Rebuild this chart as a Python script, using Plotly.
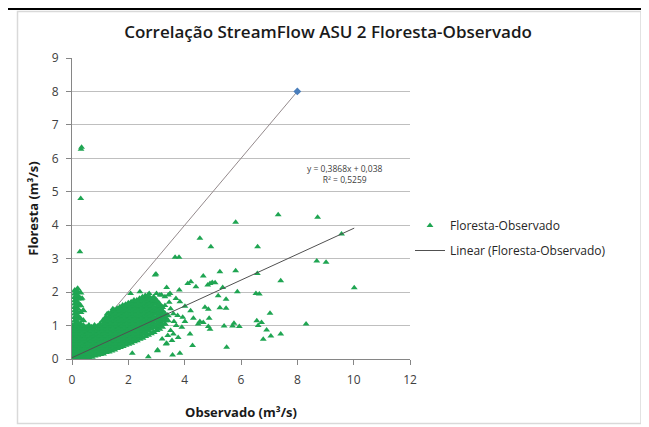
import plotly.graph_objects as go

# ---------------- data ----------------
# dense cloud of Floresta-Observado pairs
cloud_cols_x = [0.02, 0.1, 0.2, 0.3, 0.4, 0.5, 0.6, 0.7, 0.8, 0.9, 1.0, 1.1, 1.2, 1.3, 1.4,
                1.5, 1.6, 1.7, 1.8, 1.9, 2.0, 2.1, 2.2, 2.3, 2.4, 2.5, 2.6, 2.7, 2.8, 2.9,
                3.0, 3.1, 3.2, 3.3, 3.4]
cloud_cols_y = [
    [0.02, 0.1, 0.2, 0.3, 0.4, 0.5, 0.6, 0.7, 0.8, 0.9, 1.0],
    [0.05, 0.15, 0.25, 0.35, 0.45, 0.55, 0.65, 0.75, 0.85, 0.95, 1.05, 1.15, 1.25, 1.35, 1.45, 1.55, 1.65, 1.75, 1.85, 1.95, 2.05],
    [0.02, 0.1, 0.2, 0.3, 0.4, 0.5, 0.6, 0.7, 0.8, 0.9, 1.0, 1.1, 1.2, 1.3, 1.4, 1.5, 1.6, 1.7, 1.8, 1.9, 2.0, 2.1],
    [0.05, 0.15, 0.25, 0.35, 0.45, 0.55, 0.65, 0.75, 0.85, 0.95, 1.05, 1.2, 1.4, 1.6, 1.8, 1.98],
    [0.02, 0.1, 0.2, 0.3, 0.4, 0.5, 0.6, 0.7, 0.8, 0.9, 1.0, 1.15, 1.45],
    [0.05, 0.15, 0.25, 0.35, 0.45, 0.55, 0.65, 0.75, 0.85, 0.95],
    [0.03, 0.1, 0.2, 0.3, 0.4, 0.5, 0.6, 0.7, 0.8, 0.9, 1.0],
    [0.06, 0.15, 0.25, 0.35, 0.45, 0.55, 0.65, 0.75, 0.85, 0.95],
    [0.1, 0.2, 0.3, 0.4, 0.5, 0.6, 0.7, 0.8, 0.9, 1.0],
    [0.12, 0.25, 0.35, 0.45, 0.55, 0.65, 0.75, 0.85, 0.97],
    [0.14, 0.2, 0.3, 0.4, 0.5, 0.6, 0.7, 0.8, 0.9, 1.0, 1.05],
    [0.16, 0.25, 0.35, 0.45, 0.55, 0.65, 0.75, 0.85, 0.95, 1.05, 1.15],
    [0.2, 0.3, 0.4, 0.5, 0.6, 0.7, 0.8, 0.9, 1.0, 1.1, 1.2, 1.25],
    [0.22, 0.35, 0.45, 0.55, 0.65, 0.75, 0.85, 0.95, 1.05, 1.15, 1.25, 1.35],
    [0.25, 0.3, 0.4, 0.5, 0.6, 0.7, 0.8, 0.9, 1.0, 1.1, 1.2, 1.3, 1.4],
    [0.28, 0.35, 0.45, 0.55, 0.65, 0.75, 0.85, 0.95, 1.05, 1.15, 1.25, 1.35, 1.45],
    [0.32, 0.4, 0.5, 0.6, 0.7, 0.8, 0.9, 1.0, 1.1, 1.2, 1.3, 1.4, 1.5],
    [0.35, 0.45, 0.55, 0.65, 0.75, 0.85, 0.95, 1.05, 1.15, 1.25, 1.35, 1.45, 1.55],
    [0.38, 0.5, 0.6, 0.7, 0.8, 0.9, 1.0, 1.1, 1.2, 1.3, 1.4, 1.5, 1.6],
    [0.42, 0.55, 0.65, 0.75, 0.85, 0.95, 1.05, 1.15, 1.25, 1.35, 1.45, 1.55, 1.62],
    [0.45, 0.5, 0.6, 0.7, 0.8, 0.9, 1.0, 1.1, 1.2, 1.3, 1.4, 1.5, 1.6, 1.67],
    [0.48, 0.55, 0.65, 0.75, 0.85, 0.95, 1.05, 1.15, 1.25, 1.35, 1.45, 1.55, 1.65, 1.7],
    [0.52, 0.6, 0.7, 0.8, 0.9, 1.0, 1.1, 1.2, 1.3, 1.4, 1.5, 1.6, 1.7, 1.75],
    [0.55, 0.65, 0.75, 0.85, 0.95, 1.05, 1.15, 1.25, 1.35, 1.45, 1.55, 1.65, 1.75],
    [0.6, 0.7, 0.8, 0.9, 1.0, 1.1, 1.2, 1.3, 1.4, 1.5, 1.6, 1.7, 1.8],
    [0.63, 0.75, 0.85, 0.95, 1.05, 1.15, 1.25, 1.35, 1.45, 1.55, 1.65, 1.75, 1.85],
    [0.68, 0.8, 0.9, 1.0, 1.1, 1.2, 1.3, 1.4, 1.5, 1.6, 1.7, 1.8, 1.88],
    [0.72, 0.85, 0.95, 1.05, 1.15, 1.25, 1.35, 1.45, 1.55, 1.65, 1.75, 1.85, 1.9],
    [0.76, 0.9, 1.0, 1.1, 1.2, 1.3, 1.4, 1.5, 1.6, 1.7, 1.8],
    [0.8, 0.95, 1.05, 1.15, 1.25, 1.35, 1.45, 1.55, 1.65, 1.75, 1.85],
    [0.86, 0.95, 1.05, 1.15, 1.25, 1.35, 1.45, 1.55, 1.65, 1.75],
    [0.9, 1.0, 1.1, 1.2, 1.3, 1.4, 1.5, 1.6, 1.65],
    [0.96, 1.05, 1.15, 1.25, 1.35, 1.45, 1.55],
    [1.05, 1.15, 1.25, 1.35],
    [1.15, 1.3],
]

# scattered Floresta-Observado pairs
scatter_x = [
    0.34, 0.32, 0.31, 0.28, 5.81, 4.54, 4.93, 6.59, 7.32, 8.72, 9.57, 3.66, 3.80,
    8.69, 9.02, 7.41, 10.02, 8.31, 7.06, 7.41, 7.03,
    2.95, 2.98, 5.25, 5.81, 6.58, 4.66, 4.11, 4.22, 4.40,
    4.82, 4.90, 4.98, 5.08, 5.35, 3.36, 3.81, 5.87, 6.53, 6.65,
    5.19, 5.47, 3.18, 3.30, 3.42, 3.69, 3.83, 4.01, 4.21,
    4.72, 4.84, 5.25, 5.47,
    4.31, 4.54, 4.48, 4.66, 4.87, 3.93, 4.01, 3.62,
    5.40, 5.70, 5.94, 5.75, 6.56, 6.61, 6.73,
    6.91, 6.79, 4.84, 4.90, 4.19, 3.77, 4.28, 5.49, 3.34, 3.57, 3.83, 3.03,
    2.74, 2.41, 2.08, 3.00, 3.12, 3.48, 2.71, 2.14, 3.04, 3.36,
    3.50, 3.60, 3.70, 3.50, 3.40, 3.20, 3.60, 3.30, 3.45, 3.90, 3.75, 3.55,
    1.25, 1.45, 0.36, 0.40,
]
scatter_y = [
    6.33, 6.27, 4.80, 3.21, 4.09, 3.61, 3.36, 3.36, 4.31, 4.24, 3.74, 3.04, 3.04,
    2.93, 2.89, 2.34, 2.13, 1.05, 0.69, 0.75, 1.37,
    2.51, 2.54, 2.61, 2.64, 2.56, 2.48, 2.26, 2.31, 2.16,
    2.21, 2.26, 2.29, 2.28, 2.14, 2.14, 2.06, 2.01, 1.96, 1.94,
    1.89, 1.79, 1.91, 1.86, 1.91, 1.81, 1.71, 1.58, 1.44,
    1.55, 1.49, 1.53, 1.52,
    1.22, 1.12, 1.05, 1.09, 1.22, 1.25, 1.12, 1.12,
    0.99, 0.99, 0.97, 1.07, 1.14, 1.00, 1.09,
    0.87, 0.59, 0.97, 0.89, 0.75, 0.64, 0.40, 0.35, 0.45, 0.12, 0.17, 0.25,
    1.96, 2.01, 1.96, 1.96, 1.91, 1.96, 0.07, 0.17, 0.27, 0.47,
    1.50, 1.35, 1.00, 0.85, 0.70, 0.60, 0.75, 1.60, 1.70, 0.95, 1.30, 0.55,
    1.35, 1.50, 1.82, 1.45,
]

# linear trend (Excel)
slope = 0.3868
intercept = 0.038
trend_x = [0.0, 10.02]

# 1:1 reference line
ref_x = [0, 8]
ref_y = [0, 8]

x_ticks = [0, 2, 4, 6, 8, 10, 12]
y_ticks = [0, 1, 2, 3, 4, 5, 6, 7, 8, 9]

title_text = "Correlação StreamFlow ASU 2 Floresta-Observado"
x_title = "Observado (m³/s)"
y_title = "Floresta (m³/s)"
eq_text = "y = 0,3868x + 0,038<br>R² = 0,5259"

# ---------------- figure ----------------
GREEN = "#1fa552"
FONT = "Open Sans"

cloud_x, cloud_y = [], []
for cx, ys in zip(cloud_cols_x, cloud_cols_y):
    for cy in ys:
        cloud_x.append(cx)
        cloud_y.append(cy)

fig = go.Figure()

fig.add_trace(go.Scatter(
    x=ref_x, y=ref_y, mode="lines+markers",
    line=dict(color="#948a8c", width=1),
    marker=dict(symbol="diamond", size=6, color="#4a7ebb"),
    showlegend=False, hoverinfo="skip",
))

fig.add_trace(go.Scatter(
    x=cloud_x, y=cloud_y, mode="markers", showlegend=False, legendgroup="a",
    marker=dict(symbol="triangle-up", size=7, color=GREEN, line=dict(width=0)),
))

fig.add_trace(go.Scatter(
    x=scatter_x, y=scatter_y, mode="markers",
    name="Floresta-Observado", legendgroup="a",
    marker=dict(symbol="triangle-up", size=6, color=GREEN, line=dict(width=0)),
))

fig.add_trace(go.Scatter(
    x=trend_x, y=[slope * v + intercept for v in trend_x], mode="lines",
    name="Linear (Floresta-Observado)", legendgroup="b",
    line=dict(color="#505050", width=1),
))

fig.add_annotation(
    x=9.69, y=5.53, xref="x", yref="y", text=eq_text, showarrow=False,
    font=dict(family=FONT, size=8.5, color="#404040"), align="center",
)

# page body adds an 8 px offset, so design coordinates are shifted by 8
OFF = 8
L, R, T, B = 72 - OFF, 410 - OFF, 58 - OFF, 359 - OFF
W, H = 649, 427


def px(v):
    return (v - OFF - L) / (R - L)


def py(v):
    return (B - (v - OFF)) / (B - T)


shapes = [
    dict(type="rect", xref="paper", yref="paper", x0=px(0), x1=px(W + 8), y0=py(10), y1=py(0),
         fillcolor="black", line=dict(width=0), layer="above"),
    dict(type="rect", xref="paper", yref="paper", x0=px(643.3), x1=px(644.5), y0=py(H + 8), y1=py(3),
         fillcolor="black", line=dict(width=0), layer="above"),
    dict(type="rect", xref="paper", yref="paper", x0=px(646), x1=px(W + 8), y0=py(H + 8), y1=py(3),
         fillcolor="black", line=dict(width=0), layer="above"),
    dict(type="rect", xref="paper", yref="paper", x0=px(17.5), x1=px(641), y0=py(423.5), y1=py(11.5),
         line=dict(color="#d9d9d9", width=1.5), fillcolor="rgba(0,0,0,0)", layer="below"),
]

fig.update_layout(
    width=W, height=H,
    margin=dict(l=L, r=W - R, t=T, b=H - B, autoexpand=False),
    paper_bgcolor="white", plot_bgcolor="white",
    font=dict(family=FONT, color="#404040"),
    title=dict(text=title_text, x=(328 - OFF) / W, xanchor="center",
               y=1 - (32 - OFF) / H, yanchor="middle",
               font=dict(family=FONT, size=17, color="#1a1a1a", weight=600)),
    shapes=shapes,
    legend=dict(x=px(410), y=py(211), xanchor="left", yanchor="top",
                font=dict(family=FONT, size=12, color="#262626"),
                tracegroupgap=6, bgcolor="rgba(0,0,0,0)", itemwidth=30),
    showlegend=True,
)

fig.update_xaxes(
    range=[0, 12], tickvals=x_ticks, showgrid=False, zeroline=False,
    showline=True, linecolor="#868686", linewidth=1,
    ticks="outside", ticklen=5, tickcolor="#868686", ticklabelstandoff=5,
    tickfont=dict(family=FONT, size=12, color="#404040"),
    title=dict(text=x_title, font=dict(family=FONT, size=13, color="#1a1a1a", weight=700), standoff=20),
)
fig.update_yaxes(
    range=[0, 9], tickvals=y_ticks, showgrid=True, gridcolor="#bfbfbf", gridwidth=1,
    zeroline=False, showline=True, linecolor="#868686", linewidth=1,
    ticks="outside", ticklen=5, tickcolor="#868686", ticklabelstandoff=5,
    tickfont=dict(family=FONT, size=12, color="#404040"),
    title=dict(text=y_title, font=dict(family=FONT, size=13, color="#1a1a1a", weight=700), standoff=10),
)

fig.write_html("out.html")
